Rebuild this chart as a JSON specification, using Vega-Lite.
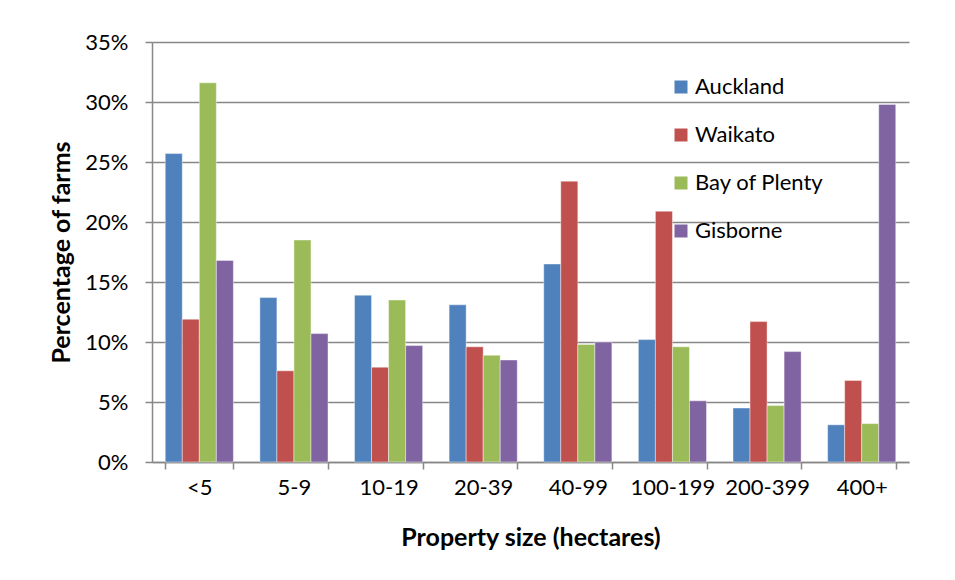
{
  "$schema": "https://vega.github.io/schema/vega-lite/v6.json",
  "width": 757,
  "height": 420,
  "autosize": {"type": "none"},
  "padding": {"left": 152, "top": 42, "right": 46, "bottom": 118},
  "background": "#ffffff",
  "data": {
    "values": [
      {"size": "<5", "region": "Auckland", "pct": 0.257},
      {"size": "<5", "region": "Waikato", "pct": 0.119},
      {"size": "<5", "region": "Bay of Plenty", "pct": 0.316},
      {"size": "<5", "region": "Gisborne", "pct": 0.168},
      {"size": "5-9", "region": "Auckland", "pct": 0.137},
      {"size": "5-9", "region": "Waikato", "pct": 0.076},
      {"size": "5-9", "region": "Bay of Plenty", "pct": 0.185},
      {"size": "5-9", "region": "Gisborne", "pct": 0.107},
      {"size": "10-19", "region": "Auckland", "pct": 0.139},
      {"size": "10-19", "region": "Waikato", "pct": 0.079},
      {"size": "10-19", "region": "Bay of Plenty", "pct": 0.135},
      {"size": "10-19", "region": "Gisborne", "pct": 0.097},
      {"size": "20-39", "region": "Auckland", "pct": 0.131},
      {"size": "20-39", "region": "Waikato", "pct": 0.096},
      {"size": "20-39", "region": "Bay of Plenty", "pct": 0.089},
      {"size": "20-39", "region": "Gisborne", "pct": 0.085},
      {"size": "40-99", "region": "Auckland", "pct": 0.165},
      {"size": "40-99", "region": "Waikato", "pct": 0.234},
      {"size": "40-99", "region": "Bay of Plenty", "pct": 0.098},
      {"size": "40-99", "region": "Gisborne", "pct": 0.1},
      {"size": "100-199", "region": "Auckland", "pct": 0.102},
      {"size": "100-199", "region": "Waikato", "pct": 0.209},
      {"size": "100-199", "region": "Bay of Plenty", "pct": 0.096},
      {"size": "100-199", "region": "Gisborne", "pct": 0.051},
      {"size": "200-399", "region": "Auckland", "pct": 0.045},
      {"size": "200-399", "region": "Waikato", "pct": 0.117},
      {"size": "200-399", "region": "Bay of Plenty", "pct": 0.047},
      {"size": "200-399", "region": "Gisborne", "pct": 0.092},
      {"size": "400+", "region": "Auckland", "pct": 0.031},
      {"size": "400+", "region": "Waikato", "pct": 0.068},
      {"size": "400+", "region": "Bay of Plenty", "pct": 0.032},
      {"size": "400+", "region": "Gisborne", "pct": 0.298}
    ]
  },
  "mark": {"type": "bar", "stroke": "#ffffff", "strokeWidth": 0.6, "strokeOpacity": 0.7},
  "encoding": {
    "x": {
      "field": "size",
      "type": "nominal",
      "sort": ["<5", "5-9", "10-19", "20-39", "40-99", "100-199", "200-399", "400+"],
      "scale": {"paddingInner": 0.28, "paddingOuter": 0.14},
      "axis": {
        "title": "Property size (hectares)",
        "labelAngle": 0,
        "tickBand": "extent",
        "tickSize": 7,
        "labelPadding": 8,
        "titlePadding": 27,
        "grid": false
      }
    },
    "xOffset": {
      "field": "region",
      "type": "nominal",
      "sort": ["Auckland", "Waikato", "Bay of Plenty", "Gisborne"]
    },
    "y": {
      "field": "pct",
      "type": "quantitative",
      "scale": {"domain": [0, 0.35], "nice": false},
      "axis": {
        "title": "Percentage of farms",
        "format": ".0%",
        "values": [0, 0.05, 0.1, 0.15, 0.2, 0.25, 0.3, 0.35],
        "tickSize": 7,
        "labelPadding": 17,
        "titlePadding": 10,
        "grid": true
      }
    },
    "color": {
      "field": "region",
      "type": "nominal",
      "sort": ["Auckland", "Waikato", "Bay of Plenty", "Gisborne"],
      "scale": {"range": ["#4f81bd", "#c0504d", "#9bbb59", "#8064a2"]},
      "legend": {
        "title": null,
        "orient": "none",
        "legendX": 518,
        "legendY": 34,
        "symbolType": "square",
        "symbolSize": 169,
        "symbolStrokeWidth": 0,
        "symbolOpacity": 1,
        "labelFontSize": 22,
        "labelFont": "Lato",
        "labelColor": "#000000",
        "labelOffset": 3,
        "rowPadding": 26
      }
    }
  },
  "config": {
    "view": {"stroke": null},
    "font": "Lato",
    "axis": {
      "labelFont": "Lato",
      "labelFontSize": 22,
      "labelColor": "#000000",
      "titleFont": "Lato",
      "titleFontSize": 25,
      "titleFontWeight": "bold",
      "titleColor": "#000000",
      "domainColor": "#878787",
      "domainWidth": 1.5,
      "tickColor": "#878787",
      "tickWidth": 1.5,
      "gridColor": "#878787",
      "gridWidth": 1.5,
      "gridOpacity": 1
    }
  }
}
